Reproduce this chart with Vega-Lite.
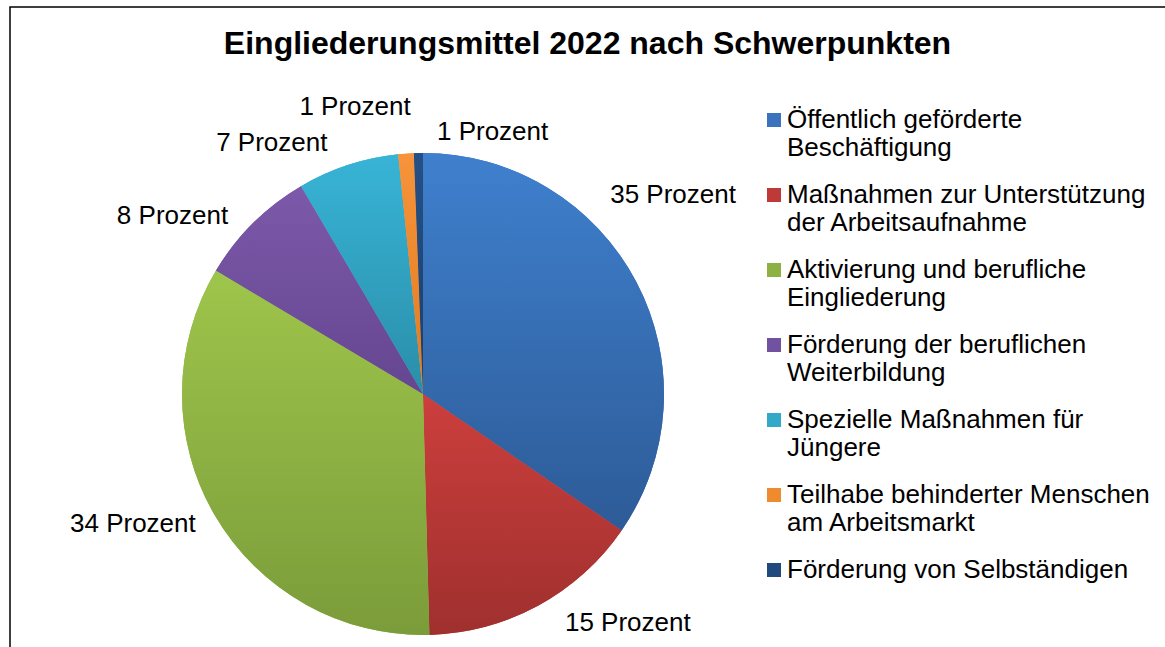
{
  "$schema": "https://vega.github.io/schema/vega-lite/v6.json",
  "autosize": {"type": "none"},
  "padding": {"left": 10, "top": 7, "right": 0, "bottom": 0},
  "width": 1155,
  "height": 640,
  "background": "white",
  "view": {"stroke": "#000000", "strokeWidth": 1.5, "strokeDash": [1155, 1795, 640]},
  "config": {
    "font": "Liberation Sans"
  },
  "title": {
    "text": "Eingliederungsmittel 2022 nach Schwerpunkten",
    "font": "Liberation Sans",
    "fontSize": 32,
    "fontWeight": "bold",
    "color": "#000000",
    "anchor": "middle",
    "frame": "group",
    "baseline": "alphabetic",
    "offset": -79
  },
  "data": {
    "values": [
      {"category": "Öffentlich geförderte\nBeschäftigung", "value": 34.6, "label": "35 Prozent", "order": 1},
      {"category": "Maßnahmen zur Unterstützung\nder Arbeitsaufnahme", "value": 15.0, "label": "15 Prozent", "order": 2},
      {"category": "Aktivierung und berufliche\nEingliederung", "value": 34.0, "label": "34 Prozent", "order": 3},
      {"category": "Förderung der beruflichen\nWeiterbildung", "value": 8.0, "label": "8 Prozent", "order": 4},
      {"category": "Spezielle Maßnahmen für\nJüngere", "value": 6.8, "label": "7 Prozent", "order": 5},
      {"category": "Teilhabe behinderter Menschen\nam Arbeitsmarkt", "value": 1.05, "label": "1 Prozent", "order": 6},
      {"category": "Förderung von Selbständigen", "value": 0.6, "label": "1 Prozent", "order": 7}
    ]
  },
  "encoding": {
    "theta": {"field": "value", "type": "quantitative", "stack": true},
    "order": {"field": "order", "type": "quantitative"}
  },
  "layer": [
    {
      "mark": {"type": "arc", "outerRadius": 241, "x": 413, "y": 387},
      "encoding": {
        "color": {
          "field": "category",
          "type": "nominal",
          "sort": {"field": "order"},
          "scale": {
            "domain": [
              "Öffentlich geförderte\nBeschäftigung",
              "Maßnahmen zur Unterstützung\nder Arbeitsaufnahme",
              "Aktivierung und berufliche\nEingliederung",
              "Förderung der beruflichen\nWeiterbildung",
              "Spezielle Maßnahmen für\nJüngere",
              "Teilhabe behinderter Menschen\nam Arbeitsmarkt",
              "Förderung von Selbständigen"
            ],
            "range": ["#3A72BE", "#BE3A38", "#8DB243", "#7052A0", "#33A9CA", "#F08A2E", "#1F4A7E"]
          },
          "legend": {
            "orient": "none",
            "legendX": 751,
            "legendY": 100,
            "title": null,
            "symbolType": "square",
            "symbolSize": 196,
            "symbolStrokeWidth": 0,
            "labelFont": "Liberation Sans",
            "labelFontSize": 26,
            "labelColor": "#000000",
            "labelLimit": 0,
            "labelOffset": 0,
            "labelBaseline": "top",
            "labelLineHeight": 30,
            "rowPadding": 21,
            "padding": 0,
            "labelExpr": "split(datum.label, '\\n')",
            "encode": {"labels": {"update": {"dy": {"value": -13}}}}
          }
        }
      }
    },
    {
      "mark": {
        "type": "arc", "outerRadius": 241, "x": 413, "y": 387,
        "fill": {"expr": "{gradient: 'linear', x1: 0, y1: 0, x2: 0, y2: 1, stops: [{offset: 0, color: ['#3F80CE', '#CC3F3D', '#9EC54B', '#7C59AA', '#38B4D6', '#F7933A', '#255086'][datum.order - 1]}, {offset: 1, color: ['#2D5B97', '#9F302E', '#7B9C3A', '#654690', '#2A8EA9', '#E07B20', '#1B3E6A'][datum.order - 1]}]}"}
      }
    },
    {
      "mark": {
        "type": "text", "radius": 268, "x": 413, "y": 387, "baseline": "middle", "fontSize": 26, "font": "Liberation Sans", "color": "#000000",
        "align": {"expr": "datum.order >= 3 && datum.order <= 5 ? 'right' : datum.order == 6 ? 'center' : 'left'"},
        "dx": {"expr": "[-50, 14, 4, -6, -12, -49, 19][datum.order - 1]"},
        "dy": {"expr": "[-74, -6, -5, 12, 4, -20, 6][datum.order - 1]"}
      },
      "encoding": {"text": {"field": "label"}}
    }
  ]
}
